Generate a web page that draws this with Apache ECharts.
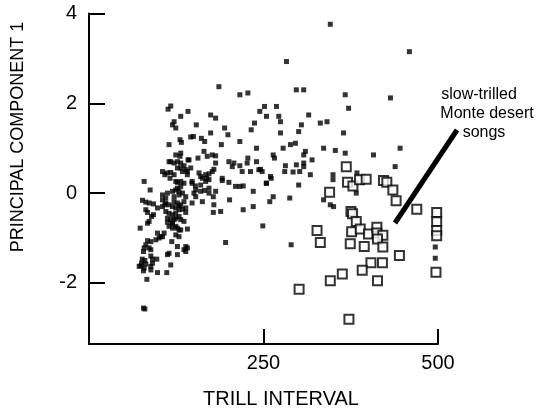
<!DOCTYPE html>
<html>
<head>
<meta charset="utf-8">
<script src="https://cdn.jsdelivr.net/npm/echarts@6/dist/echarts.min.js"></script>
<style>
  html, body { margin: 0; padding: 0; background: #fff; }
  #chart { width: 545px; height: 414px; }
</style>
</head>
<body>
<div id="chart"></div>
<script>
// song samples: [trill interval, principal component 1]
const otherSongs = [
  [345.7,3.76],[459,3.15],[282.9,2.93],[297,2.30],[307.6,2.30],[367.1,2.19],[431.9,2.12],[371.9,1.89],
  [251.4,1.93],[268.6,1.93],[244.7,1.82],[254.3,1.71],[271.9,1.71],[314.7,1.74],[237.1,1.56],[274.3,1.59],
  [304.3,1.52],[331.4,1.56],[341,1.59],[232.4,1.41],[274.3,1.34],[300.4,1.37],[364.7,1.34],[240,1.00],
  [278.1,1.00],[288.6,1.08],[295.7,1.11],[310,0.93],[307.6,0.85],[336.1,1.00],[352.9,0.95],[367.1,0.89],
  [407.6,0.85],[445.7,1.00],[263.9,0.85],[265.7,0.78],[240,0.70],[319.6,0.74],[281.4,0.61],[297.1,0.63],
  [307.6,0.67],[307.6,0.59],[438.6,0.59],[243.3,0.52],[248.1,0.48],[280.4,0.48],[292.4,0.47],[301.9,0.48],
  [317.1,0.41],[260,0.37],[349.6,0.41],[349.6,0.30],[383.9,0.45],[261,0.33],[254.3,0.22],[300.4,0.18],
  [235.3,0.04],[382.9,0],[287.6,-0.11],[263.9,-0.08],[259,-0.19],[235.3,-0.30],[336.1,-0.15],[345.7,-0.26],
  [350.4,-0.30],[249,-0.73],[289.6,-1.15],[496.1,-1.20],[496.1,-1.45],[231.4,0.48],
  [186.1,2.37],[216.1,2.19],[227.6,2.23],[117.1,1.94],[113.3,1.87],[131.4,1.71],[141.9,1.82],[174.3,1.74],
  [181.4,1.67],[119.6,1.52],[124.3,1.45],[121.9,1.59],[153.7,1.52],[194.3,1.45],[199,1.30],[174.3,1.34],
  [114.7,1.08],[130.4,1.19],[132.4,1.13],[145.7,1.25],[149.6,1.26],[161,1.22],[165.7,1.15],[189.6,1.08],
  [216.1,1.15],[124.3,0.85],[131.4,0.89],[130.4,0.82],[164.7,0.93],[169.4,0.82],[176.6,0.85],[181.4,0.83],
  [156.1,0.78],[114.7,0.70],[121.9,0.67],[126.7,0.70],[131.4,0.67],[136.1,0.61],[141.9,0.74],[181.4,0.67],
  [200.4,0.70],[207.6,0.67],[205.3,0.59],[216.1,0.61],[226.6,0.67],[227.6,0.78],[245.7,0.53],[105.3,0.48],
  [112.3,0.45],[117.1,0.46],[121.9,0.41],[131.4,0.56],[133.9,0.48],[126.7,0.56],[140.9,0.41],[138.6,0.52],
  [157.6,0.45],[160,0.37],[167.1,0.41],[171.9,0.43],[176.6,0.48],[178.9,0.53],[190.9,0.33],[219.4,0.48],
  [168.6,0.33],[162.4,0.33],[79,0.26],[116.1,0.33],[126.7,0.24],[131.4,0.26],[136.1,0.22],[147.7,0.22],
  [152.4,0.16],[160,0.18],[167.1,0.26],[171.9,0.30],[171.9,0.11],[190.9,0.28],[200.4,0.24],[210,0.15],
  [216.1,0.15],[220.9,0.16],[253.9,0.22],[87.6,0.07],[105.3,-0.04],[110,-0.11],[112.4,0],[119.6,0.04],
  [124.3,0.07],[126.7,0.11],[131.4,0.15],[129,0.04],[133.9,0],[138.6,-0.08],[150.4,0],[152.9,-0.08],
  [165.7,0.06],[171.9,0],[181.4,0.04],[178.1,-0.08],[162.4,-0.19],[201.4,-0.15],[76.6,-0.16],[81.4,-0.20],
  [86.1,-0.22],[92.4,-0.24],[105.3,-0.15],[110,-0.22],[114.7,-0.26],[105.3,-0.30],[121.9,-0.19],[126.7,-0.22],
  [131.4,-0.26],[119.6,-0.30],[124.3,-0.33],[129,-0.37],[133.9,-0.36],[138.6,-0.43],[98.1,-0.33],[178.9,-0.26],
  [178.1,-0.43],[188.6,-0.41],[220.9,-0.37],[83.9,-0.43],[92.4,-0.48],[89.6,-0.52],[110,-0.41],[114.7,-0.45],
  [119.6,-0.48],[124.3,-0.45],[112.4,-0.56],[117.1,-0.59],[124.3,-0.56],[129,-0.52],[131.4,-0.59],[83.9,-0.67],
  [86.1,-0.63],[73.3,-0.78],[112.4,-0.65],[119.6,-0.68],[114.7,-0.74],[136.1,-0.63],[119.6,-0.78],[126.7,-0.78],
  [131.4,-0.82],[141,-0.80],[107.6,-0.89],[105.3,-0.97],[100.4,-1.00],[95.7,-1.04],[124.3,-0.93],[129,-0.97],
  [83.9,-1.06],[88.6,-1.08],[81.4,-1.15],[86.1,-1.22],[88.6,-1.26],[118.6,-1.08],[195.7,-1.10],[79,-1.22],
  [78.1,-1.30],[126.7,-1.19],[138.6,-1.19],[141,-1.22],[136.1,-1.26],[138.6,-1.30],[114.7,-1.34],[112.4,-1.37],
  [126.7,-1.37],[88.6,-1.40],[91,-1.47],[97.1,-1.47],[76.3,-1.47],[80,-1.50],[75.3,-1.56],[81.4,-1.58],
  [91,-1.56],[88.6,-1.63],[117.1,-1.60],[71.9,-1.63],[79,-1.67],[74.3,-1.62],[88.6,-1.71],[98.1,-1.77],
  [111.4,-1.77],[78.1,-1.73],[82.9,-1.92],[78.1,-2.56],[80,-2.58],
  [124.3,0.26],[147.7,0.26],[152.9,0.07],[160,0.04],[121.9,-0.08],[129,-0.04],[136.1,-0.19],[108.6,-0.26],
  [129,-0.28],[138.6,-0.33],[147.7,-0.22],[81.4,-0.37],[121.9,-0.59],[119.6,-0.67],[124.3,-0.74],[129,-0.82],
  [102.9,-0.97],[98.1,-0.89],[108.6,0.41],[145.7,0.56],[141,0.48],[117.1,0.70],[143.3,0.74]
];

// slow-trilled Monte desert songs
const monteSongs = [
  [368.6,0.59],[370.4,0.24],[378.1,0.16],[387.6,0.30],[397.1,0.31],[421.9,0.28],[426.7,0.24],[435.3,0.07],
  [344.7,0.02],[440,-0.17],[469.6,-0.36],[375.3,-0.41],[377.6,-0.46],[498.1,-0.43],[382.9,-0.63],[498.1,-0.64],
  [326.7,-0.83],[376.3,-0.86],[388.6,-0.80],[400.4,-0.91],[412.4,-0.76],[412.4,-0.89],[421,-0.94],[413.3,-1.02],
  [498.1,-0.83],[498.1,-0.95],[331.4,-1.10],[374.3,-1.13],[394.3,-1.19],[421,-1.20],[444.7,-1.39],[403.9,-1.55],
  [420.4,-1.55],[391.4,-1.72],[362.9,-1.80],[345.7,-1.95],[413.3,-1.95],[497.1,-1.76],[301,-2.14],[372.4,-2.81]
];

const xTicks = [250, 500];
const yTicks = [-2, 0, 2, 4];

const font = '"Liberation Sans", Arial, Helvetica, sans-serif';

let myChart = echarts.init(document.getElementById('chart'));

let option = {
  animation: false,
  grid: {
    left: 89,
    right: 107,
    top: 13.5,
    bottom: 70
  },
  xAxis: {
    type: 'value',
    min: 0,
    max: 500,
    axisLine: { onZero: false, lineStyle: { color: '#000', width: 2 } },
    axisTick: {
      inside: true,
      length: 15,
      customValues: xTicks,
      lineStyle: { color: '#000', width: 2 }
    },
    axisLabel: {
      customValues: xTicks,
      color: '#000',
      fontSize: 20,
      fontFamily: font,
      margin: 9
    },
    splitLine: { show: false }
  },
  yAxis: {
    type: 'value',
    min: -3.36,
    max: 4,
    axisLine: { show: true, onZero: false, lineStyle: { color: '#000', width: 2 } },
    axisTick: {
      show: true,
      inside: true,
      length: 16,
      customValues: yTicks,
      lineStyle: { color: '#000', width: 2 }
    },
    axisLabel: {
      customValues: yTicks,
      color: '#000',
      fontSize: 20,
      fontFamily: font,
      margin: 12
    },
    splitLine: { show: false }
  },
  graphic: [
    {
      type: 'text',
      x: 18, y: 137,
      rotation: Math.PI / 2,
      style: {
        text: 'PRINCIPAL COMPONENT 1',
        font: '18px ' + font,
        fill: '#000',
        align: 'center',
        verticalAlign: 'middle'
      }
    },
    {
      type: 'text',
      x: 281, y: 399,
      style: {
        text: 'TRILL INTERVAL',
        font: '20px ' + font,
        fill: '#000',
        align: 'center',
        verticalAlign: 'middle'
      }
    },
    {
      type: 'text', x: 479, y: 95,
      style: { text: 'slow-trilled', font: '16px ' + font, fill: '#000', align: 'center', verticalAlign: 'middle' }
    },
    {
      type: 'text', x: 487, y: 114,
      style: { text: 'Monte desert', font: '16px ' + font, fill: '#000', align: 'center', verticalAlign: 'middle' }
    },
    {
      type: 'text', x: 484, y: 133,
      style: { text: 'songs', font: '16px ' + font, fill: '#000', align: 'center', verticalAlign: 'middle' }
    },
    {
      type: 'line',
      shape: { x1: 395, y1: 223, x2: 457, y2: 130 },
      style: { stroke: '#000', lineWidth: 5 }
    }
  ],
  series: [
    {
      name: 'other',
      type: 'scatter',
      symbol: 'rect',
      symbolSize: 5,
      data: otherSongs,
      itemStyle: { color: '#000' }
    },
    {
      name: 'monte',
      type: 'scatter',
      symbol: 'rect',
      symbolSize: 9,
      data: monteSongs,
      itemStyle: { color: '#fff', borderColor: '#000', borderWidth: 2 }
    }
  ]
};

myChart.setOption(option);
</script>
</body>
</html>
